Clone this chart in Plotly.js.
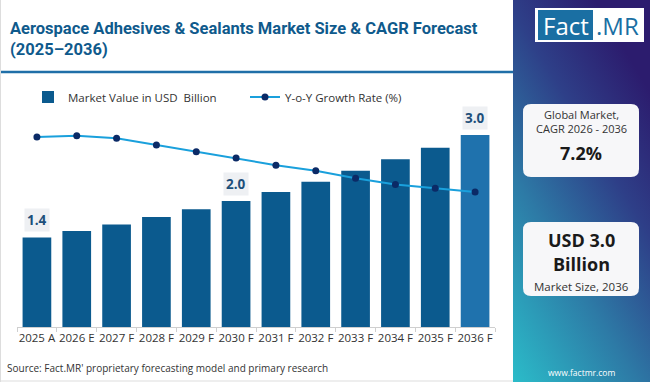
<!DOCTYPE html>
<html>
<head>
<meta charset="utf-8">
<script src="https://cdn.plot.ly/plotly-3.0.1.min.js"></script>
<style>
html,body{margin:0;padding:0;background:#fff;}
#chart{width:650px;height:382px;}
</style>
</head>
<body>
<div id="chart"></div>
<script>
// ---- data ----
const years = ["2025 A","2026 E","2027 F","2028 F","2029 F","2030 F","2031 F","2032 F","2033 F","2034 F","2035 F","2036 F"];
const marketValue = [1.40, 1.50, 1.60, 1.72, 1.84, 1.97, 2.11, 2.27, 2.44, 2.62, 2.80, 3.00];
const yoyGrowth = [7.50, 7.56, 7.44, 7.14, 6.83, 6.55, 6.22, 5.97, 5.63, 5.34, 5.17, 5.00];
const labelledYears = ["2025 A", "2030 F", "2036 F"];
const labelTexts = ["1.4", "2.0", "3.0"];
const titleLine1 = "Aerospace Adhesives & Sealants Market Size & CAGR Forecast";
const titleLine2 = "(2025–2036)";
const sourceText = "Source: Fact.MR' proprietary forecasting model and primary research";
const cagrText = "7.2%";
const sizeLine1 = "USD 3.0";
const sizeLine2 = "Billion";

const barColors = years.map((y, i) => i === years.length - 1 ? "#1f72ad" : "#0b5a8e");

const gradSvg = '<svg xmlns="http://www.w3.org/2000/svg" width="137" height="382" viewBox="0 0 137 382" preserveAspectRatio="none">' +
  '<defs><linearGradient id="g" x1="0" y1="1" x2="0.6" y2="0">' +
  '<stop offset="0" stop-color="#2bbcc9"/><stop offset="0.4" stop-color="#2d7aa6"/>' +
  '<stop offset="0.72" stop-color="#2e3f88"/><stop offset="1" stop-color="#2c1c6e"/></linearGradient></defs>' +
  '<rect width="137" height="382" fill="url(#g)"/></svg>';
const gradUri = "data:image/svg+xml;base64," + btoa(gradSvg);

const traces = [
  {
    type: "bar", x: years, y: marketValue, name: "Market Value in USD  Billion",
    marker: {color: barColors}, yaxis: "y", hoverinfo: "skip"
  },
  {
    type: "scatter", mode: "lines+markers", x: years, y: yoyGrowth, name: "Y-o-Y Growth Rate (%)",
    line: {color: "#1aa0dc", width: 2},
    marker: {color: "#0b2a66", size: 7}, yaxis: "y2", hoverinfo: "skip"
  }
];

const pf = "'Open Sans', sans-serif";
// plot area in pixels
const L = 17, W = 478, T = 80, H = 247;
const px = x => (x - L) / W;
const py = y => (T + H - y) / H;

const annotations = labelledYears.map((yr, k) => {
  const i = years.indexOf(yr);
  return {
    x: yr, y: marketValue[i], xref: "x", yref: "y", text: "<b>" + labelTexts[k] + "</b>",
    showarrow: false, yanchor: "bottom", yshift: 5, bgcolor: "#eef0f3",
    borderpad: 2, font: {family: pf, size: 13.5, color: "#1d4f7a"}
  };
});

function pa(x, y, text, size, color, opts) {
  return Object.assign({xref: "paper", yref: "paper", x: px(x), y: py(y), text: text, showarrow: false,
    xanchor: "center", yanchor: "middle", font: {family: pf, size: size, color: color}}, opts || {});
}

const titleFont = {family: "Roboto, sans-serif", size: 16.5, color: "#0f5a8c"};
annotations.push(
  pa(8, 28, "<b>" + titleLine1 + "</b>", 16.5, "#0f5a8c", {xanchor: "left", font: titleFont}),
  pa(8, 50, "<b>" + titleLine2 + "</b>", 16.5, "#0f5a8c", {xanchor: "left", font: titleFont}),
  pa(5, 368, sourceText, 10, "#333", {xanchor: "left"}),
  pa(581, 121.5, "Global Market,<br>CAGR 2026 - 2036", 11, "#333"),
  pa(581, 153, "<b>" + cagrText + "</b>", 18, "#1a1a1a"),
  pa(581, 240, "<b>" + sizeLine1 + "</b>", 18, "#1a1a1a"),
  pa(581, 264, "<b>" + sizeLine2 + "</b>", 18, "#1a1a1a"),
  pa(581, 286, "Market Size, 2036", 11.5, "#333"),
  pa(581, 372, "www.factmr.com", 8.5, "#fff"),
  pa(565.5, 25, "Fact", 24, "#fff"),
  pa(617, 25, ".MR", 24, "#1a6fa3")
);

function roundRect(x0, y0, x1, y1, r, fill) {
  const X0 = px(x0), X1 = px(x1), Y0 = py(y0), Y1 = py(y1);
  const rx = r / W, ry = r / H;
  const path = `M ${X0 + rx} ${Y0} L ${X1 - rx} ${Y0} Q ${X1} ${Y0} ${X1} ${Y0 - ry} L ${X1} ${Y1 + ry} Q ${X1} ${Y1} ${X1 - rx} ${Y1} L ${X0 + rx} ${Y1} Q ${X0} ${Y1} ${X0} ${Y1 + ry} L ${X0} ${Y0 - ry} Q ${X0} ${Y0} ${X0 + rx} ${Y0} Z`;
  return {type: "path", xref: "paper", yref: "paper", path: path, fillcolor: fill, line: {width: 0}, layer: "above"};
}
function rect(x0, y0, x1, y1, fill) {
  return {type: "rect", xref: "paper", yref: "paper", x0: px(x0), x1: px(x1), y0: py(y1), y1: py(y0),
    fillcolor: fill, line: {width: 0}, layer: "above"};
}

const shapes = [
  {type: "line", xref: "paper", yref: "paper", x0: px(0), x1: px(513), y0: py(72), y1: py(72), line: {color: "#1f6fa8", width: 2.5}},
  {type: "line", xref: "paper", yref: "paper", x0: px(0.5), x1: px(0.5), y0: py(0), y1: py(382), line: {color: "#ddd", width: 1}},
  {type: "line", xref: "paper", yref: "paper", x0: px(0), x1: px(513), y0: py(381), y1: py(381), line: {color: "#ddd", width: 1}},
  roundRect(523, 104, 639, 177, 8, "#f7f7f9"),
  roundRect(523, 222, 639, 296, 8, "#f7f7f9"),
  rect(535, 8, 644, 42, "#fff"),
  rect(538, 10, 593, 40, "#1a6fa3")
];

const yMax = H / 64;
const y2Min = 7.5 - (T + H - 137) / 22;

const layout = {
  width: 650, height: 382,
  margin: {l: L, r: 650 - L - W, t: T, b: 382 - T - H, pad: 0, autoexpand: false},
  paper_bgcolor: "#fff", plot_bgcolor: "rgba(0,0,0,0)",
  font: {family: pf, color: "#333"},
  showlegend: true,
  legend: {orientation: "h", x: px(28), y: py(97), xanchor: "left", yanchor: "middle",
    font: {family: pf, size: 11.5, color: "#333"}, traceorder: "normal", bgcolor: "rgba(0,0,0,0)",
    itemwidth: 30, entrywidth: 172},
  bargap: 0.28,
  xaxis: {type: "category", range: [-0.5, years.length - 0.5], showline: true, linecolor: "#cfcfcf", linewidth: 1,
    ticks: "outside", tickson: "boundaries", ticklen: 4, tickcolor: "#cfcfcf", tickangle: 0,
    tickfont: {family: pf, size: 11.5, color: "#333"},
    showgrid: false, zeroline: false, fixedrange: true, automargin: false},
  yaxis: {range: [0, yMax], visible: false, showgrid: false, zeroline: false, fixedrange: true},
  yaxis2: {range: [y2Min, y2Min + H / 22], overlaying: "y", side: "right",
    visible: false, showgrid: false, zeroline: false, fixedrange: true},
  images: [{source: gradUri, xref: "paper", yref: "paper", x: px(513), y: py(0), sizex: 137 / W, sizey: 382 / H,
    xanchor: "left", yanchor: "top", sizing: "stretch", layer: "below"}],
  shapes: shapes,
  annotations: annotations
};

Plotly.newPlot("chart", traces, layout, {displayModeBar: false, staticPlot: true});
</script>
</body>
</html>
